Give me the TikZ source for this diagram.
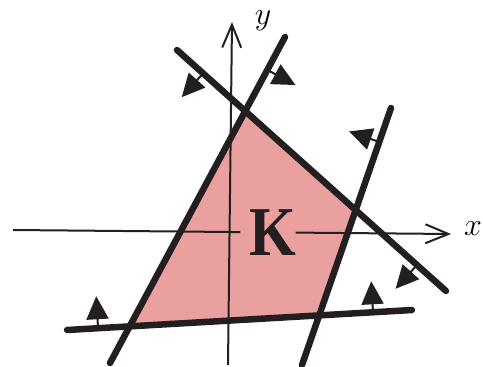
\RequirePackage{fix-cm}
\documentclass[tikz,border=0pt]{standalone}
\usepackage{fontspec}
\newfontfamily\kfont{Liberation Serif}
\usepackage{xcolor}
\definecolor{ink}{RGB}{35, 31, 32}
\definecolor{rose}{RGB}{233, 160, 158}
\usepackage{tikz}
\usetikzlibrary{
  arrows.meta, calc
}
\usepackage{graphicx}

\tikzset{
  halfplane/.style={draw=ink, line width=6.5pt, line cap=round},
  axis/.style={draw=ink, line width=2pt},
  axistip/.style={-{Straight Barb[length=23pt,width=19pt]}},
  normal/.style={draw=ink, line width=2pt, -{Triangle[length=23pt,width=22pt]}}
}

\begin{document}
\begin{tikzpicture}[x=1pt, y=-1pt]
    \useasboundingbox (0,0) rectangle (483,367);

    \coordinate (A1) at (110,363); \coordinate (A2) at (285,37);
    \coordinate (B1) at (177,50);  \coordinate (B2) at (446,291);
    \coordinate (C1) at (391,108); \coordinate (C2) at (302,365);
    \coordinate (D1) at (67,330);  \coordinate (D2) at (412,310);

    \coordinate (top)      at (intersection of A1--A2 and B1--B2);
    \coordinate (right)    at (intersection of B1--B2 and C1--C2);
    \coordinate (lowright) at (intersection of C1--C2 and D1--D2);
    \coordinate (lowleft)  at (intersection of D1--D2 and A1--A2);

    \fill[rose] (top) -- (right) -- (lowright) -- (lowleft) -- cycle;

    \coordinate (xL) at (13,230);  \coordinate (xR) at (451,234);
    \coordinate (yB) at (228,365); \coordinate (yT) at (232,22);
    \draw[axis] (xL) -- ($(xL)!0.519!(xR)$);
    \draw[axis, axistip] ($(xL)!0.645!(xR)$) -- (xR);
    \draw[axis, axistip] (yB) -- (yT);
    \node (xlabel) at (473,229) {\fontsize{32}{32}\selectfont$x$};
    \node (ylabel) at (263,21) {\fontsize{32}{32}\selectfont$y$};

    \draw[halfplane] (A1) -- (A2);
    \draw[halfplane] (B1) -- (B2);
    \draw[halfplane] (C1) -- (C2);
    \draw[halfplane] (D1) -- (D2);

    \coordinate (nA)  at ($(A1)!0.899!(A2)$);
    \coordinate (nB1) at ($(B1)!0.097!(B2)$);
    \coordinate (nB2) at ($(B1)!0.892!(B2)$);
    \coordinate (nC)  at ($(C1)!0.132!(C2)$);
    \coordinate (nD1) at ($(D1)!0.09!(D2)$);
    \coordinate (nD2) at ($(D1)!0.887!(D2)$);
    \draw[normal] (nA)  -- ($(nA)!32pt!-90:(A2)$);
    \draw[normal] (nB1) -- ($(nB1)!32pt!-90:(B2)$);
    \draw[normal] (nB2) -- ($(nB2)!32pt!-90:(B2)$);
    \draw[normal] (nC)  -- ($(nC)!32pt!-90:(C2)$);
    \draw[normal] (nD1) -- ($(nD1)!32pt!90:(D2)$);
    \draw[normal] (nD2) -- ($(nD2)!31pt!90:(D2)$);

    \node[inner sep=0pt, text=ink] (K) at (273,233)
      {\fontsize{70}{70}\selectfont\kfont\bfseries\scalebox{0.86}[1]{K}};
  \end{tikzpicture}
\end{document}
